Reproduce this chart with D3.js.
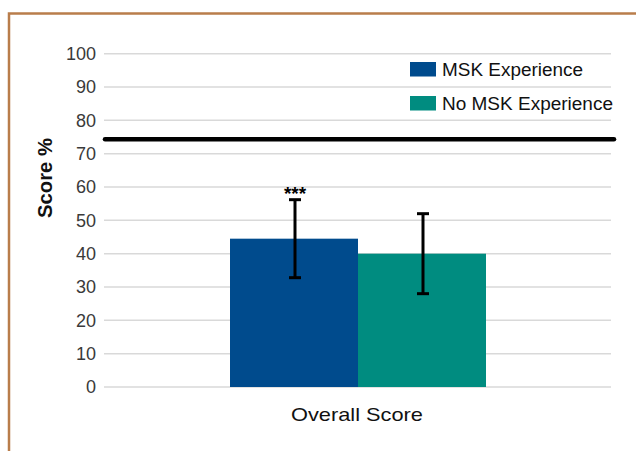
<!DOCTYPE html>
<html>
<head>
<meta charset="utf-8">
<script src="https://cdn.jsdelivr.net/npm/d3@7"></script>
<style>
  body { margin: 0; background: #fff; }
  text { font-family: "Liberation Sans", Arial, sans-serif; }
</style>
</head>
<body>
<svg width="636" height="451"></svg>
<script>
// data
var categories = ["Overall Score"];
var series = ["MSK Experience", "No MSK Experience"];
var means = [44.5, 40.0];
var errors = [11.7, 12.0];
var colors = ["#004b8d", "#008c80"];
var yTicks = [0, 10, 20, 30, 40, 50, 60, 70, 80, 90, 100];
var threshold = 74.3;
var significance = ["***", ""];

var svg = d3.select("svg");

// frame
svg.append("path")
  .attr("d", "M9,451 V13.5 H636")
  .attr("fill", "none")
  .attr("stroke", "#b97d4b")
  .attr("stroke-width", 2.5);

var y = d3.scaleLinear().domain([0, 100]).range([387, 53.7]);
var x1 = d3.scaleBand().domain(series).range([230, 486]);

// gridlines
svg.append("g").selectAll("line").data(yTicks).join("line")
  .attr("x1", 104).attr("x2", 611)
  .attr("y1", function(d) { return y(d); }).attr("y2", function(d) { return y(d); })
  .attr("stroke", "#d9d9d9").attr("stroke-width", 1.5);

// tick labels
var ax = svg.append("g").attr("transform", "translate(104,0)")
  .call(d3.axisLeft(y).tickValues(yTicks).tickSize(0).tickPadding(8));
ax.select(".domain").remove();
ax.selectAll("text").attr("font-size", 18).attr("fill", "#3a3a3a")
  .attr("font-family", "Liberation Sans, Arial, sans-serif");

// bars
svg.append("g").selectAll("rect").data(series).join("rect")
  .attr("x", function(d) { return x1(d); })
  .attr("width", x1.bandwidth())
  .attr("y", function(d, i) { return y(means[i]); })
  .attr("height", function(d, i) { return y(0) - y(means[i]); })
  .attr("fill", function(d, i) { return colors[i]; });

// error bars
var eb = svg.append("g").attr("stroke", "#000").attr("stroke-width", 3);
series.forEach(function(s, i) {
  var cx = x1(s) + x1.bandwidth() / 2 + 1;
  var top = y(means[i] + errors[i]), bot = y(means[i] - errors[i]);
  eb.append("line").attr("x1", cx).attr("x2", cx).attr("y1", top).attr("y2", bot);
  eb.append("line").attr("x1", cx - 6).attr("x2", cx + 6).attr("y1", top).attr("y2", top);
  eb.append("line").attr("x1", cx - 6).attr("x2", cx + 6).attr("y1", bot).attr("y2", bot);
  if (significance[i]) {
    svg.append("text").attr("x", cx).attr("y", top)
      .attr("text-anchor", "middle").attr("font-size", 19).attr("font-weight", "bold")
      .text(significance[i]);
  }
});

// threshold line
svg.append("line")
  .attr("x1", 105).attr("x2", 614)
  .attr("y1", y(threshold)).attr("y2", y(threshold))
  .attr("stroke", "#000").attr("stroke-width", 4.5).attr("stroke-linecap", "round");

// axis titles
svg.append("text")
  .attr("transform", "translate(52,178) rotate(-90)")
  .attr("text-anchor", "middle").attr("font-size", 20).attr("font-weight", "bold")
  .attr("textLength", 80).attr("lengthAdjust", "spacingAndGlyphs")
  .attr("fill", "#111").text("Score %");

svg.append("text")
  .attr("x", 357).attr("y", 421)
  .attr("text-anchor", "middle").attr("font-size", 19).attr("fill", "#111")
  .attr("textLength", 132).attr("lengthAdjust", "spacingAndGlyphs")
  .text(categories[0]);

// legend
var legendWidths = [141, 171];
var lg = svg.append("g").selectAll("g").data(series).join("g")
  .attr("transform", function(d, i) { return "translate(410," + (62 + i * 34) + ")"; });
lg.append("rect").attr("width", 26).attr("height", 14.5)
  .attr("fill", function(d, i) { return colors[i]; });
lg.append("text").attr("x", 32).attr("y", 14).attr("font-size", 18).attr("fill", "#111")
  .attr("textLength", function(d, i) { return legendWidths[i]; })
  .attr("lengthAdjust", "spacingAndGlyphs")
  .text(function(d) { return d; });
</script>
</body>
</html>
